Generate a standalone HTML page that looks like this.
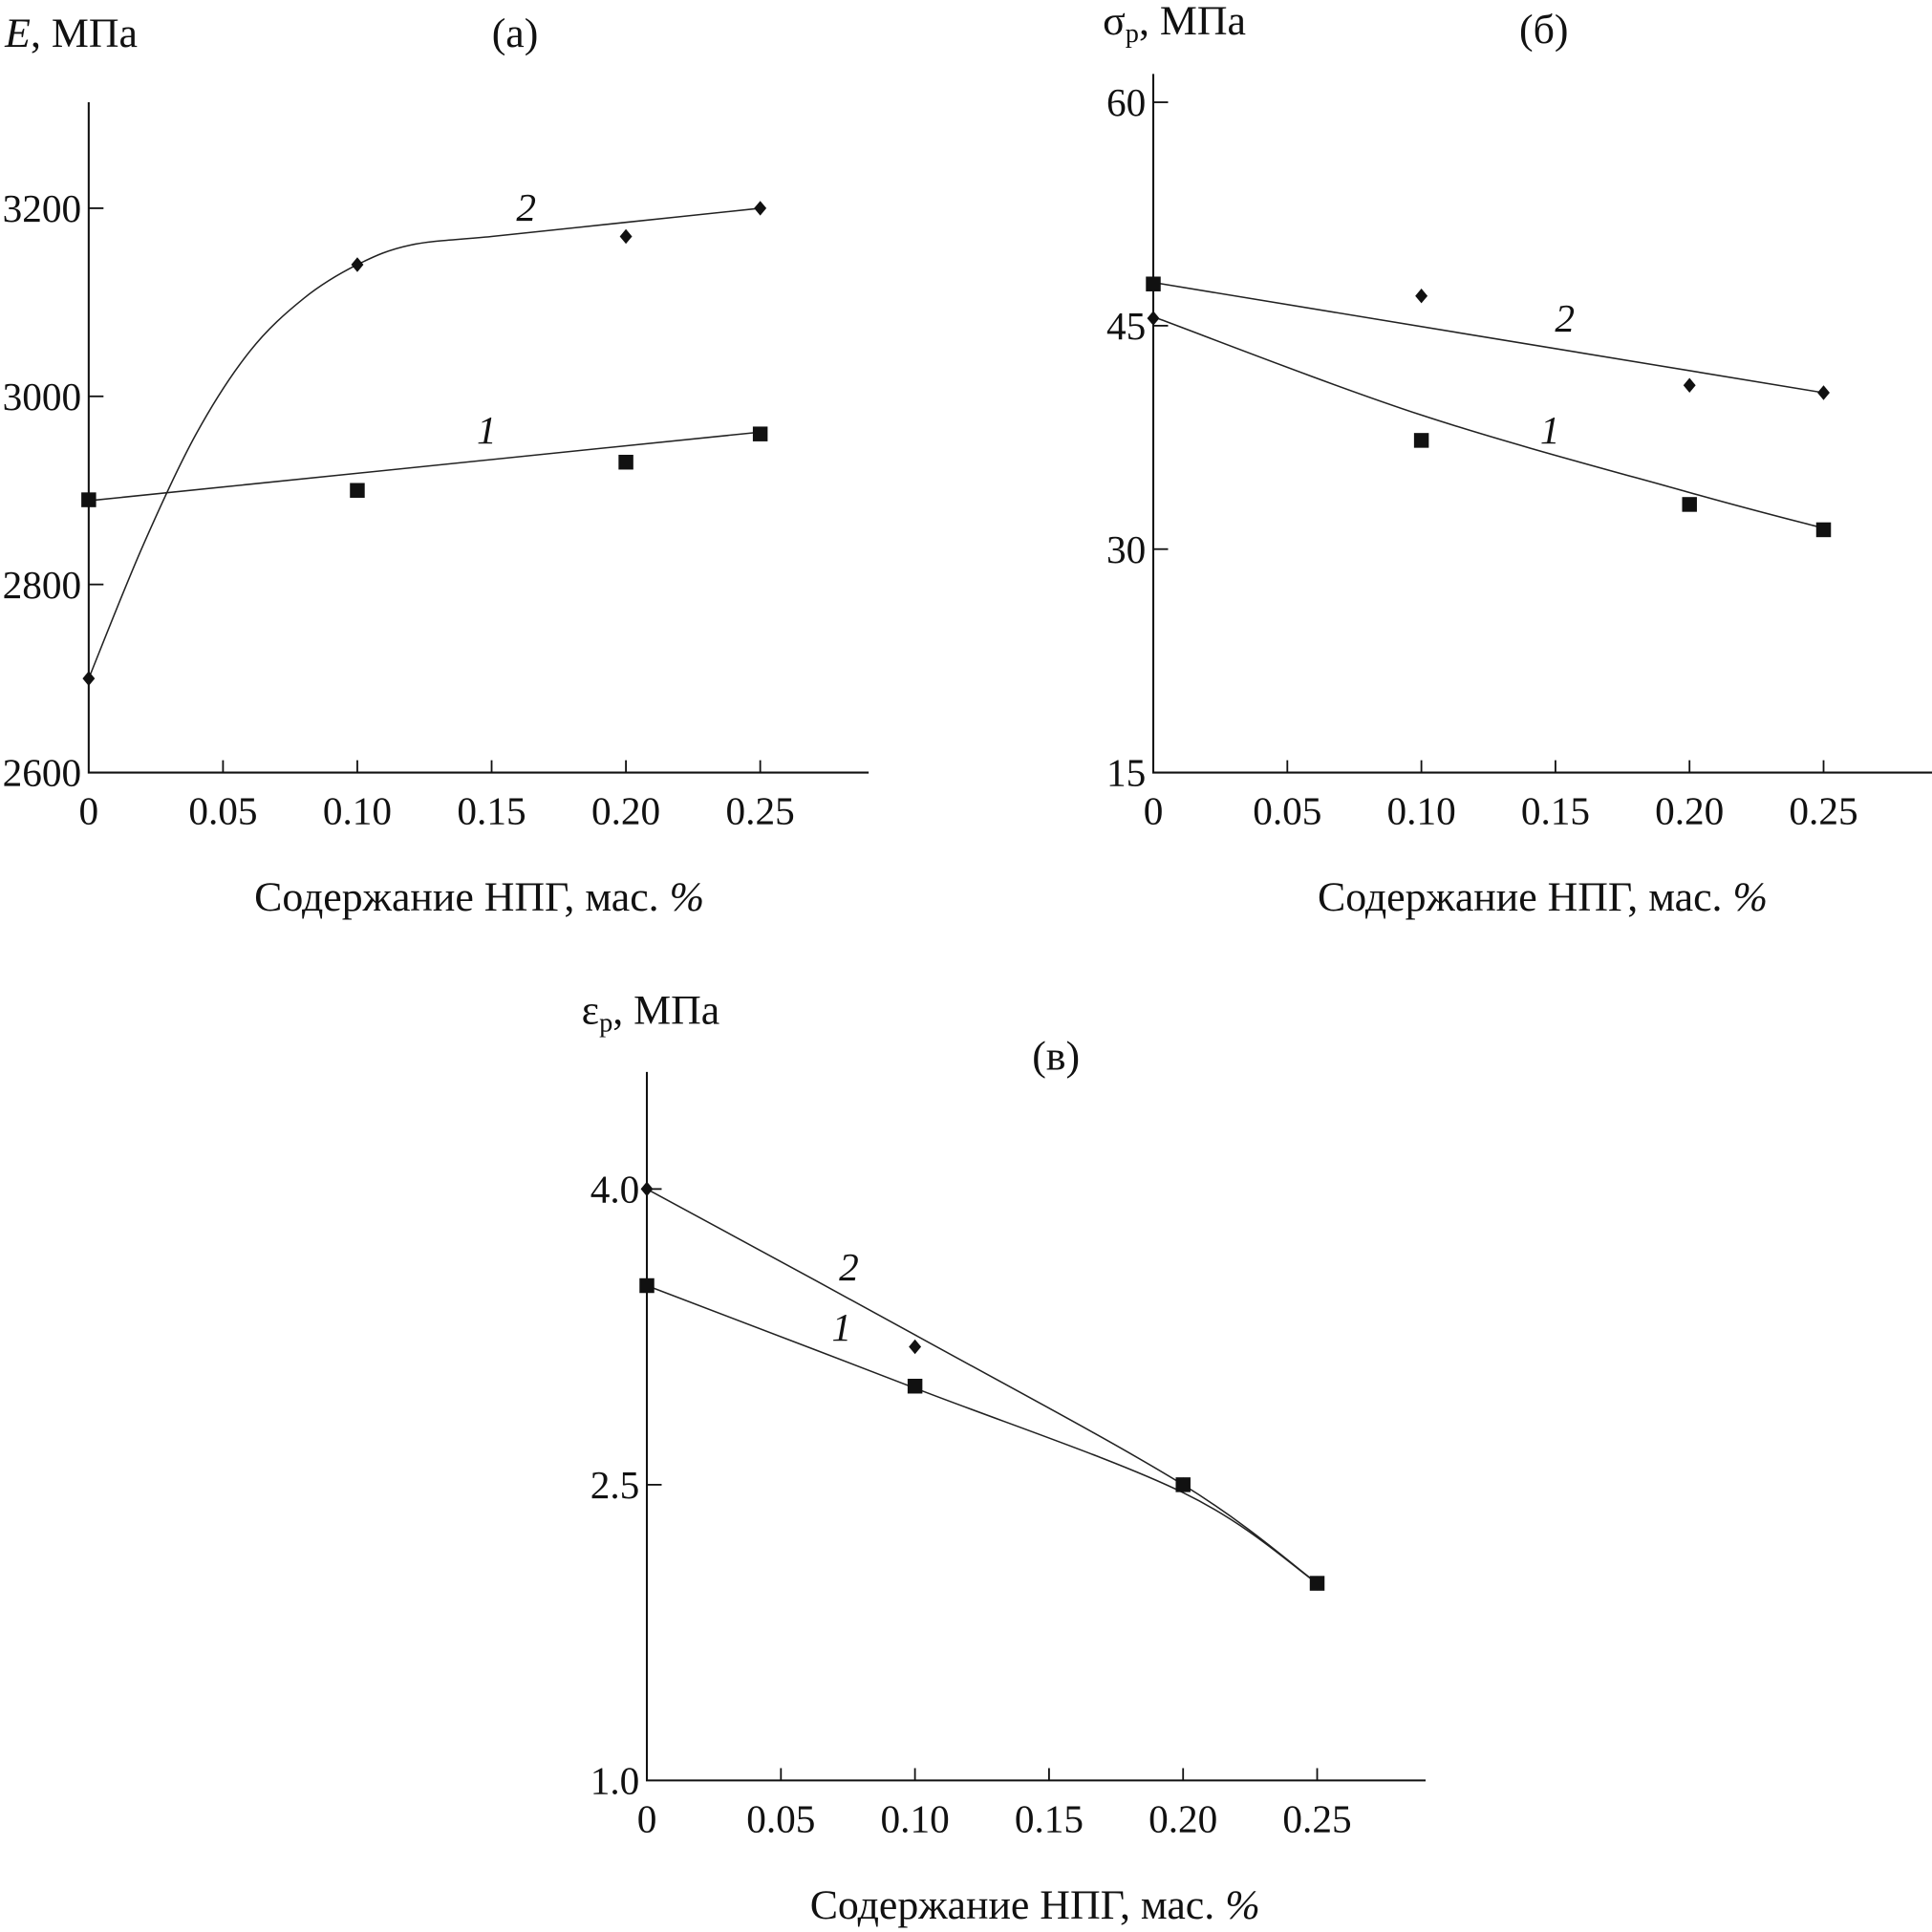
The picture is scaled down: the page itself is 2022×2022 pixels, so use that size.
<!DOCTYPE html>
<html><head><meta charset="utf-8"><style>
html,body{margin:0;padding:0;background:#fff}
svg{display:block}
text{font-family:"Liberation Serif",serif;fill:#111}
</style></head><body>
<svg id="fig" width="2022" height="2022" viewBox="0 0 1568 1568" xmlns="http://www.w3.org/2000/svg"></svg>
<script>
// ---- data ----
const xCats = [0, 0.1, 0.2, 0.25];
const xTicks = [0, 0.05, 0.10, 0.15, 0.20, 0.25];
const xTickLabels = ["0", "0.05", "0.10", "0.15", "0.20", "0.25"];

const aTicks = [2600, 2800, 3000, 3200];
const aS1 = [2890, 2900, 2930, 2960];
const aS2 = [2700, 3140, 3170, 3200];
const aFit1X = [0, 0.25];
const aFit1Y = [2889, 2962];
const aFit2X = [0, 0.02, 0.04, 0.06, 0.08, 0.1, 0.12, 0.15, 0.2, 0.25];
const aFit2Y = [2700, 2840, 2960, 3048, 3104, 3140, 3161, 3170, 3185, 3200];

const bTicks = [15, 30, 45, 60];
const bS1 = [47.8, 37.3, 33.0, 31.3];
const bS2 = [45.5, 47.0, 41.0, 40.5];
const bFit1X = [0, 0.1, 0.2, 0.25];
const bFit1Y = [45.6, 39.0, 33.8, 31.4];
const bFit2X = [0, 0.25];
const bFit2Y = [47.9, 40.5];

const cTicks = [1.0, 2.5, 4.0];
const cTickLabels = ["1.0", "2.5", "4.0"];
const cS1 = [3.51, 3.0, 2.5, 2.0];
const cS2 = [4.0, 3.2, 2.5, 2.0];
const cFit1X = [0, 0.1, 0.2, 0.25];
const cFit1Y = [3.51, 2.99, 2.46, 2.0];
const cFit2X = [0, 0.1, 0.2, 0.25];
const cFit2Y = [4.0, 3.26, 2.5, 2.0];

const NS = "http://www.w3.org/2000/svg";
const svg = document.getElementById("fig");
function mk(tag, attrs, parent) {
  const e = document.createElementNS(NS, tag);
  for (const k in attrs) e.setAttribute(k, attrs[k]);
  (parent || svg).appendChild(e);
  return e;
}
function smoothPath(pts) {
  if (pts.length === 2) return `M${pts[0][0]},${pts[0][1]} L${pts[1][0]},${pts[1][1]}`;
  let d = `M${pts[0][0]},${pts[0][1]}`;
  for (let i = 0; i < pts.length - 1; i++) {
    const p0 = pts[Math.max(0, i - 1)], p1 = pts[i], p2 = pts[i + 1], p3 = pts[Math.min(pts.length - 1, i + 2)];
    const c1 = [p1[0] + (p2[0] - p0[0]) / 6, p1[1] + (p2[1] - p0[1]) / 6];
    const c2 = [p2[0] - (p3[0] - p1[0]) / 6, p2[1] - (p3[1] - p1[1]) / 6];
    d += ` C${c1[0]},${c1[1]} ${c2[0]},${c2[1]} ${p2[0]},${p2[1]}`;
  }
  return d;
}

function panel(cfg) {
  const g = mk("g", {});
  
  
  const sx = v => cfg.x0 + (v / 0.25) * (cfg.x25 - cfg.x0);
  const sy = v => cfg.yBot - (v - cfg.yMin) / (cfg.yMax - cfg.yMin) * (cfg.yBot - cfg.yTopTick);
  const ax = mk("path", {d:`M${cfg.x0},${cfg.axisTop} L${cfg.x0},${cfg.yBot} L${cfg.axisRight},${cfg.yBot}`, fill:"none", stroke:"#111", "stroke-width":1.6}, g);
  
  
  xTicks.forEach((t, i) => {
    const x = sx(t);
    if (i > 0) {
      const tk = mk("line", {x1:x, y1:cfg.yBot, x2:x, y2:cfg.yBot - 10, stroke:"#111", "stroke-width":1.4}, g);
      
      
    }
    const tl = mk("text", {x:x, y:cfg.yBot + 42, "font-size":32, "text-anchor":"middle"}, g);
    tl.textContent = xTickLabels[i];
    
    
  });
  cfg.yTicks.forEach((t, i) => {
    const y = sy(t);
    if (i > 0) {
      const tk = mk("line", {x1:cfg.x0, y1:y, x2:cfg.x0 + 12, y2:y, stroke:"#111", "stroke-width":1.4}, g);
      
      
    }
    const tl = mk("text", {x:cfg.x0 - 6, y:y + 11, "font-size":32, "text-anchor":"end"}, g);
    tl.textContent = cfg.yLabels[i];
    
    
  });
  [[cfg.f1x, cfg.f1y, 'fit-line-1'], [cfg.f2x, cfg.f2y, 'fit-line-2']].forEach(([fx, fy, nm]) => {
    const pts = fx.map((v, i) => [sx(v), sy(fy[i])]);
    const p = mk("path", {d:smoothPath(pts), fill:"none", stroke:"#222", "stroke-width":1.2}, g);
    
    
  });
  cfg.s2.forEach((v, i) => {
    const x = sx(xCats[i]), y = sy(v);
    const d = mk("path", {d:`M${x},${y-6} L${x+5},${y} L${x},${y+6} L${x-5},${y} Z`, fill:"#111"}, g);
    
    
  });
  cfg.s1.forEach((v, i) => {
    const x = sx(xCats[i]), y = sy(v);
    const r = mk("rect", {x:x-6, y:y-6, width:12, height:12, fill:"#111"}, g);
    
    
  });
  cfg.labels.forEach(([txt, x, y]) => {
    const t = mk("text", {x:x, y:y, "font-size":32, "font-style":"italic", "text-anchor":"middle"}, g);
    t.textContent = txt;
    
    
  });
  const yt = mk("text", {x:cfg.ytx, y:cfg.yty, "font-size":34}, g);
  yt.innerHTML = cfg.ytitle;
  
  
  const pt = mk("text", {x:cfg.ptx, y:cfg.pty, "font-size":34, "text-anchor":"middle"}, g);
  pt.textContent = cfg.ptitle;
  
  
  const xt = mk("text", {x:cfg.xtx, y:cfg.yBot + 112, "font-size":34, "text-anchor":"middle"}, g);
  xt.innerHTML = 'Содержание НПГ, мас. <tspan font-style="italic">%</tspan>';
  
  
}

panel({name:"panel-a", x0:72, x25:617, axisRight:705, axisTop:83, yBot:627, yMin:2600, yMax:3200, yTopTick:169,
  yTicks:aTicks, yLabels:aTicks.map(String), s1:aS1, s2:aS2, f1x:aFit1X, f1y:aFit1Y, f2x:aFit2X, f2y:aFit2Y,
  labels:[["2",427,179],["1",395,360]], ytitle:'<tspan font-style="italic">E</tspan>, МПа', ytx:4, yty:38,
  ptitle:"(а)", ptx:418, pty:38, xtx:389});
panel({name:"panel-b", x0:936, x25:1480, axisRight:1568, axisTop:60, yBot:627, yMin:15, yMax:60, yTopTick:83,
  yTicks:bTicks, yLabels:bTicks.map(String), s1:bS1, s2:bS2, f1x:bFit1X, f1y:bFit1Y, f2x:bFit2X, f2y:bFit2Y,
  labels:[["2",1270,269],["1",1258,360]], ytitle:'σ<tspan font-size="22" dy="6">р</tspan><tspan dy="-6">, МПа</tspan>', ytx:895, yty:28,
  ptitle:"(б)", ptx:1253, pty:35, xtx:1252});
panel({name:"panel-c", x0:525, x25:1069, axisRight:1157, axisTop:870, yBot:1445, yMin:1.0, yMax:4.0, yTopTick:965,
  yTicks:cTicks, yLabels:cTickLabels, s1:cS1, s2:cS2, f1x:cFit1X, f1y:cFit1Y, f2x:cFit2X, f2y:cFit2Y,
  labels:[["2",689,1039],["1",683,1088]], ytitle:'ε<tspan font-size="22" dy="6">р</tspan><tspan dy="-6">, МПа</tspan>', ytx:472, yty:831,
  ptitle:"(в)", ptx:857, pty:868, xtx:840});
</script>
</body></html>
